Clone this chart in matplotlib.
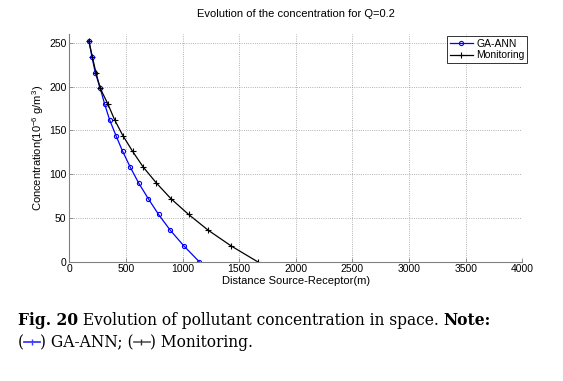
import matplotlib
matplotlib.use("Agg")
import matplotlib.pyplot as plt
from matplotlib.lines import Line2D

# ── data ────────────────────────────────────────────────────
conc = [252, 234, 216, 198, 180, 162, 144, 126, 108, 90, 72, 54, 36, 18, 0]
dist_ga_ann = [173, 200, 229, 273, 312, 356, 412, 471, 538, 612, 697, 788, 891, 1012, 1147]
dist_monitor = [173, 203, 235, 273, 341, 400, 473, 559, 653, 768, 897, 1053, 1226, 1429, 1662]

x_ticks = [0, 500, 1000, 1500, 2000, 2500, 3000, 3500, 4000]
y_ticks = [0, 50, 100, 150, 200, 250]

plt.rcParams['font.family'] = ['Liberation Sans', 'DejaVu Sans']
plt.rcParams['mathtext.fontset'] = 'custom'
plt.rcParams['mathtext.rm'] = 'Liberation Sans'
plt.rcParams['mathtext.it'] = 'Liberation Sans'

W, H = 563, 381
fig = plt.figure(figsize=(W / 100, H / 100), dpi=100)
ax = fig.add_axes([69.3 / W, 1 - 261.7 / H, (522.3 - 69.3) / W, (261.7 - 34) / H])

ax.plot(dist_ga_ann, conc, color='#0000ff', lw=0.9, marker='o', ms=3.0,
        mfc='none', mew=0.8, label='GA-ANN')
ax.plot(dist_monitor, conc, color='black', lw=0.9, marker='+', ms=4,
        mew=0.8, label='Monitoring')

ax.set_xlim(0, 4000)
ax.set_ylim(0, 260)
ax.set_xticks(x_ticks)
ax.set_yticks(y_ticks)
ax.grid(True, ls=':', lw=0.6, color='#999999')
ax.spines['top'].set_visible(False)
ax.spines['right'].set_visible(False)
for s in ('left', 'bottom'):
    ax.spines[s].set_color('#808080')
    ax.spines[s].set_linewidth(0.8)
ax.tick_params(direction='in', length=3, width=0.6, color='#808080',
               labelsize=7.5, pad=2)

ax.set_title("Evolution of the concentration for Q=0.2", fontsize=8, pad=12)
ax.set_xlabel("Distance Source-Receptor(m)", fontsize=8, labelpad=1)
ax.set_ylabel("Concentration(10$^{-6}$ g/m$^3$)", fontsize=8, labelpad=2)

leg = ax.legend(loc='upper right', bbox_to_anchor=(527 / W, 1 - 36 / H),
                bbox_transform=fig.transFigure, fontsize=7.5, frameon=True,
                fancybox=False, edgecolor='black', borderpad=0.25,
                handlelength=2.2, handletextpad=0.3, labelspacing=0.15,
                borderaxespad=0)
leg.get_frame().set_linewidth(0.7)

# ── caption below the chart ─────────────────────────────────
serif = ['DejaVu Serif']
renderer = fig.canvas.get_renderer()
cap_size = 12.0


def put(x, y, s, size, **kw):
    t = fig.text(x / W, 1 - y / H, s, fontsize=size, family=serif,
                 va='baseline', ha='left', **kw)
    bb = t.get_window_extent(renderer)
    return t, x + bb.width


# fit the first caption line to the width it takes in the reference
probe, end = put(18, 325, "Fig. 20 Evolution of pollutant concentration in space. Note:",
                 cap_size)
probe.remove()
cap_size = cap_size * (486 - 18) / (end - 18)

_, x = put(18, 325, "Fig. 20", cap_size, weight='bold')
_, x = put(x, 325, " Evolution of pollutant concentration in space. ", cap_size)
put(x, 325, "Note:", cap_size, weight='bold')

mid = 342
_, x = put(18, 347, "(", cap_size)
fig.add_artist(Line2D([x / W, (x + 16) / W], [1 - mid / H] * 2,
                      color='#3a3aff', lw=1.3))
fig.add_artist(Line2D([(x + 8) / W], [1 - mid / H], color='#3a3aff',
                      marker='|', ms=4, mew=1))
_, x = put(x + 16, 347, ") GA-ANN; (", cap_size)
fig.add_artist(Line2D([x / W, (x + 16) / W], [1 - mid / H] * 2,
                      color='#666666', lw=1.3))
fig.add_artist(Line2D([(x + 8) / W], [1 - mid / H], color='#333333',
                      marker='|', ms=4, mew=1))
put(x + 16, 347, ") Monitoring.", cap_size)

fig.savefig("out.png", dpi=100)
